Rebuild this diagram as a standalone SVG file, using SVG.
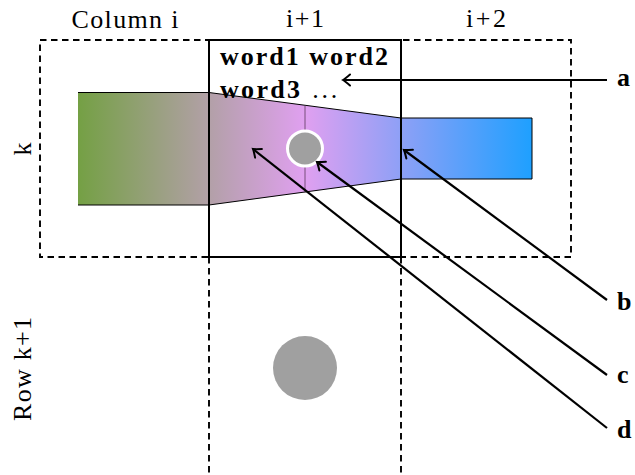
<svg xmlns="http://www.w3.org/2000/svg" width="635" height="475" viewBox="0 0 635 475">
<style>
.t{font-family:'Liberation Serif',serif;font-size:26px;font-weight:normal;fill:#000}
.b{font-family:'Liberation Serif',serif;font-size:26px;font-weight:bold;fill:#000}
.dash{fill:none;stroke:#000;stroke-width:1.9;stroke-dasharray:6.5 4.5}
.conn{fill:none;stroke:#000;stroke-width:2.2;marker-end:url(#ah)}
</style>
<defs>
<linearGradient id="g" gradientUnits="userSpaceOnUse" x1="78" y1="0" x2="532" y2="0">
<stop offset="0" stop-color="#74a044"/>
<stop offset="0.5" stop-color="#e0a0f0"/>
<stop offset="1" stop-color="#1ea0ff"/>
</linearGradient>
<marker id="ah" markerWidth="14" markerHeight="14" viewBox="-8 -7 9 14" refX="0" refY="0" orient="auto" markerUnits="userSpaceOnUse">
<path d="M-7,-5.5 Q-2,-1.2 0,0 Q-2,1.2 -7,5.5" fill="none" stroke="#000" stroke-width="2" stroke-linecap="round"/>
</marker>
</defs>
<g id="grid">
<rect class="dash" x="40" y="40" width="531" height="217"/>
<line class="dash" x1="209" y1="257" x2="209" y2="475"/>
<line class="dash" x1="401" y1="257" x2="401" y2="475"/>
</g>
<g id="labels">
<text class="t" x="125" y="28" text-anchor="middle" textLength="107">Column i</text>
<text class="t" x="305" y="27" text-anchor="middle" textLength="38">i+1</text>
<text class="t" x="486" y="27" text-anchor="middle" textLength="40">i+2</text>
<text class="t" transform="translate(31,149) rotate(-90)" text-anchor="middle">k</text>
<text class="t" transform="translate(31,369) rotate(-90)" text-anchor="middle" textLength="104">Row k+1</text>
</g>
<g id="band">
<path d="M78,92.5 L209,92.5 L401,118 L532,118 L532,179 L401,179 L209,205 L78,205 Z" fill="url(#g)"/>
<path d="M78,92.5 L209,92.5 L401,118 L532,118 L532,179 L401,179 L209,205 L78,205" fill="none" stroke="#000" stroke-width="1"/>
<line x1="305" y1="105.5" x2="305" y2="192.5" stroke="#5a3a5a" stroke-width="0.8"/>
</g>
<g id="cell">
<rect x="209" y="40" width="192" height="217" fill="none" stroke="#000" stroke-width="2"/>
<text class="b" x="220" y="65" textLength="168">word1 word2</text>
<text class="b" x="220" y="98"><tspan textLength="80">word3</tspan><tspan class="t" dx="10" textLength="25">. . .</tspan></text>
</g>
<g id="dot1">
<circle cx="305" cy="148.5" r="17.5" fill="#a0a0a0" stroke="#fff" stroke-width="3"/>
</g>
<g id="dot2">
<circle cx="305" cy="368" r="32" fill="#a0a0a0"/>
</g>
<g id="connectors">
<line class="conn" x1="607" y1="80" x2="343" y2="80"/>
<line class="conn" x1="607" y1="300" x2="404" y2="150"/>
<line class="conn" x1="607" y1="375" x2="317" y2="162"/>
<line class="conn" x1="607" y1="428" x2="253" y2="149"/>
</g>
<g id="tags">
<text class="b" x="617" y="86">a</text>
<text class="b" x="617" y="310">b</text>
<text class="b" x="617" y="383">c</text>
<text class="b" x="617" y="438">d</text>
</g>
</svg>
